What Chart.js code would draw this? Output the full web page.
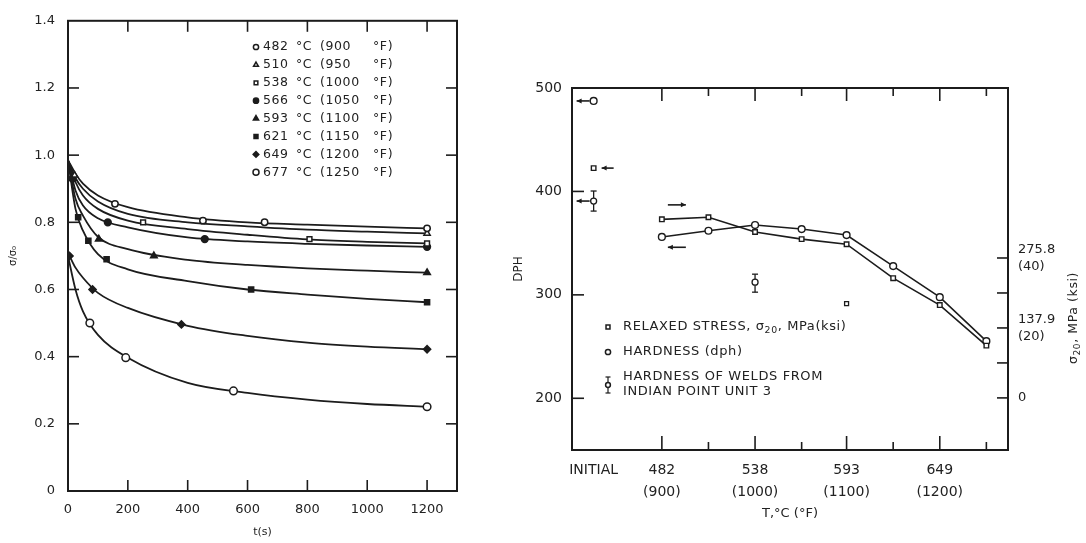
<!DOCTYPE html>
<html><head><meta charset="utf-8">
<script src="https://cdn.jsdelivr.net/npm/chart.js@4"></script>
<style>
html,body{margin:0;padding:0;background:#fff;width:1086px;height:543px;overflow:hidden}
#c1{position:absolute;left:0;top:0}
#c2{position:absolute;left:480px;top:0}
</style></head><body>
<canvas id="c1" width="470" height="543"></canvas>
<canvas id="c2" width="606" height="543"></canvas>
<script>
// ---------------- LEFT CHART DATA ----------------
const timeS = [0, 25, 50, 100, 200, 400, 600, 800, 1000, 1200];
const tempC = ['482', '510', '538', '566', '593', '621', '649', '677'];
const tempF = ['900', '950', '1000', '1050', '1100', '1150', '1200', '1250'];
const curve482 = [0.985, 0.945, 0.915, 0.88, 0.845, 0.815, 0.80, 0.793, 0.787, 0.782];
const curve510 = [0.985, 0.932, 0.90, 0.862, 0.825, 0.80, 0.788, 0.778, 0.772, 0.767];
const curve538 = [0.985, 0.92, 0.88, 0.84, 0.805, 0.78, 0.763, 0.749, 0.742, 0.737];
const curve566 = [0.985, 0.895, 0.85, 0.812, 0.785, 0.755, 0.743, 0.736, 0.731, 0.727];
const curve593 = [0.985, 0.87, 0.82, 0.757, 0.72, 0.688, 0.673, 0.663, 0.656, 0.65];
const curve621 = [0.985, 0.84, 0.775, 0.705, 0.66, 0.625, 0.60, 0.585, 0.572, 0.562];
const curve649 = [0.71, 0.665, 0.635, 0.59, 0.545, 0.492, 0.462, 0.442, 0.43, 0.422];
const curve677 = [0.70, 0.60, 0.535, 0.465, 0.397, 0.322, 0.292, 0.272, 0.259, 0.251];
const markT482 = [157, 451, 657, 1200], markV482 = [0.855, 0.805, 0.80, 0.782];
const markT510 = [22, 1200], markV510 = [0.94, 0.767];
const markT538 = [251, 807, 1200], markV538 = [0.80, 0.75, 0.737];
const markT566 = [15, 133, 457, 1200], markV566 = [0.93, 0.80, 0.75, 0.727];
const markT593 = [103, 287, 1200], markV593 = [0.75, 0.70, 0.65];
const markT621 = [34, 68, 129, 612, 1200], markV621 = [0.815, 0.745, 0.69, 0.60, 0.562];
const markT649 = [5, 82, 379, 1200], markV649 = [0.70, 0.60, 0.496, 0.422];
const markT677 = [73, 193, 553, 1200], markV677 = [0.50, 0.397, 0.298, 0.251];
const xTicksLeft = [0, 200, 400, 600, 800, 1000, 1200];
const yTicksLeft = [0, 0.2, 0.4, 0.6, 0.8, 1.0, 1.2, 1.4];

// ---------------- RIGHT CHART DATA ----------------
const tempAxis = [482, 510, 538, 566, 593, 621, 649, 677];
const stressMPa = [352, 356, 327, 313, 303, 236, 183, 103];
const hardnessDPH = [356, 362, 367.5, 363.6, 357.8, 327.8, 297.8, 255.2];
const initialX = 441;
const initialHardness = [487.5];
const initialStress = [453];
const extraStressT = [593], extraStressV = [186];
const weldT = [441, 538], weldDPH = [390.7, 312.3], weldLo = [381, 302.6], weldHi = [400.4, 320];
const xTickVals = [441, 482, 538, 593, 649];
const xTickLabels = ['INITIAL', ['482', '(900)'], ['538', '(1000)'], ['593', '(1100)'], ['649', '(1200)']];
const xMinorTicks = [510, 566, 621, 677];
const dphTicks = [200, 300, 400, 500];
const mpaTickVals = [0, 137.9, 275.8];
const mpaTickLabels = ['0', ['137.9', '(20)'], ['275.8', '(40)']];
const mpaTickMarks = [0, 68.95, 137.9, 206.85, 275.8];

const ink = '#1c1c1c';
const txt = '#222';
const FONT = '"DejaVu Sans", "Liberation Sans", sans-serif';

function pts(xs, ys) { return xs.map((x, i) => ({x: x, y: ys[i]})); }
function curveDs(vals) {
  return {data: pts(timeS, vals), showLine: true, borderColor: ink, borderWidth: 1.8,
    pointRadius: 0, cubicInterpolationMode: 'monotone', fill: false, order: 2};
}
function markDs(ts, vs, style, filled, r, rot) {
  return {data: pts(ts, vs), showLine: false, pointStyle: style, pointRadius: r, pointRotation: rot || 0,
    backgroundColor: filled ? ink : '#fff', borderColor: ink, borderWidth: 1.5, order: 1};
}
const legendStyles = [
  ['circle', false, 3.2], ['triangle', false, 3.6], ['rect', false, 3.4], ['circle', true, 3.4],
  ['triangle', true, 3.8], ['rect', true, 3.6], ['rectRot', true, 3.6], ['circle', false, 3.8]
];
const curves = [curve482, curve510, curve538, curve566, curve593, curve621, curve649, curve677];
const marksT = [markT482, markT510, markT538, markT566, markT593, markT621, markT649, markT677];
const marksV = [markV482, markV510, markV538, markV566, markV593, markV621, markV649, markV677];

const leftDatasets = [];
curves.forEach(c => leftDatasets.push(curveDs(c)));
marksT.forEach((t, i) => { const s = legendStyles[i]; leftDatasets.push(markDs(t, marksV[i], s[0], s[1], s[2])); });

function line(ctx, x1, y1, x2, y2) { ctx.beginPath(); ctx.moveTo(x1, y1); ctx.lineTo(x2, y2); ctx.stroke(); }

function marker(ctx, style, filled, r, x, y) {
  ctx.save();
  ctx.fillStyle = filled ? ink : '#fff';
  ctx.strokeStyle = ink; ctx.lineWidth = 1.5;
  Chart.helpers.drawPoint(ctx, {pointStyle: style, radius: r, borderWidth: 1.5, rotation: 0}, x, y);
  ctx.restore();
}

const leftFrame = {
  id: 'leftFrame',
  afterDatasetsDraw(chart) {
    const {ctx, chartArea: a, scales} = chart;
    ctx.save();
    ctx.strokeStyle = ink; ctx.lineWidth = 2;
    ctx.strokeRect(a.left, a.top, a.right - a.left, a.bottom - a.top);
    ctx.lineWidth = 1.6;
    const L = 11;
    xTicksLeft.forEach(v => { if (v === 0) return; const p = scales.x.getPixelForValue(v);
      line(ctx, p, a.bottom, p, a.bottom - L); line(ctx, p, a.top, p, a.top + L); });
    yTicksLeft.forEach(v => { if (v === 0 || v === 1.4) return; const p = scales.y.getPixelForValue(v);
      line(ctx, a.left, p, a.left + L, p); line(ctx, a.right, p, a.right - L, p); });
    // legend
    ctx.fillStyle = txt;
    ctx.font = '12.5px ' + FONT;
    ctx.textBaseline = 'middle';
    try { ctx.letterSpacing = '0.6px'; } catch (e) {}
    const y0 = 47, dy = 17.9;
    tempC.forEach((c, i) => {
      const y = y0 + i * dy;
      const s = legendStyles[i];
      marker(ctx, s[0], s[1], Math.max(2.6, s[2] - 0.8), 256, y);
      ctx.fillStyle = txt;
      ctx.textAlign = 'left';
      ctx.fillText(c, 263, y);
      ctx.fillText('°C', 296, y);
      ctx.fillText('(' + tempF[i], 320, y);
      ctx.fillText('°F)', 373, y);
    });
    ctx.restore();
  }
};

new Chart(document.getElementById('c1'), {
  type: 'scatter',
  data: {datasets: leftDatasets},
  options: {
    responsive: false, animation: false, devicePixelRatio: 1,
    layout: {padding: {left: 0, right: 13, top: 15, bottom: 0}},
    plugins: {legend: {display: false}, tooltip: {enabled: false}},
    scales: {
      x: {type: 'linear', min: 0, max: 1300,
        afterBuildTicks: s => { s.ticks = xTicksLeft.map(v => ({value: v})); },
        afterFit: s => { s.height = 52; },
        grid: {display: false, drawTicks: false}, border: {display: false},
        ticks: {padding: 11, color: txt, font: {family: FONT, size: 13}, maxRotation: 0, callback: v => String(v)},
        title: {display: true, text: 't(s)', color: txt, font: {family: FONT, size: 11}, padding: {top: 0, bottom: 4}}
      },
      y: {type: 'linear', min: 0, max: 1.4,
        afterBuildTicks: s => { s.ticks = yTicksLeft.map(v => ({value: v})); },
        afterFit: s => { s.width = 68; },
        grid: {display: false, drawTicks: false}, border: {display: false},
        ticks: {padding: 13, color: txt, font: {family: FONT, size: 13}, callback: v => v === 0 ? '0' : v.toFixed(1)},
        title: {display: true, text: 'σ/σ₀', color: txt, font: {family: FONT, size: 10}, padding: {top: 7, bottom: 0}}
      }
    }
  },
  plugins: [leftFrame]
});

// ---------------- RIGHT CHART ----------------
function arrow(ctx, x1, x2, y) {
  line(ctx, x1, y, x2, y);
  const d = x2 > x1 ? -1 : 1;
  ctx.beginPath(); ctx.moveTo(x2, y); ctx.lineTo(x2 + d * 5, y - 2.5); ctx.lineTo(x2 + d * 5, y + 2.5); ctx.closePath(); ctx.fill();
}
function segText(ctx, x, y, segs, size, draw) {
  let cx = x;
  segs.forEach(s => {
    if (s.sub) {
      ctx.font = (size * 0.72) + 'px ' + FONT;
      if (draw !== false) ctx.fillText(s.t, cx, y + size * 0.3);
    } else {
      ctx.font = size + 'px ' + FONT;
      if (draw !== false) ctx.fillText(s.t, cx, y);
    }
    cx += ctx.measureText(s.t).width;
  });
  return cx - x;
}

const rightFrame = {
  id: 'rightFrame',
  afterDatasetsDraw(chart) {
    const {ctx, chartArea: a, scales} = chart;
    const sx = scales.x, sy = scales.y, s2 = scales.y2;
    ctx.save();
    ctx.strokeStyle = ink; ctx.fillStyle = ink; ctx.lineWidth = 2;
    ctx.strokeRect(a.left, a.top, a.right - a.left, a.bottom - a.top);
    ctx.lineWidth = 1.6;
    xTickVals.slice(1).forEach(v => { const p = sx.getPixelForValue(v);
      line(ctx, p, a.bottom, p, a.bottom - 14); line(ctx, p, a.top, p, a.top + 13); });
    xMinorTicks.forEach(v => { const p = sx.getPixelForValue(v);
      line(ctx, p, a.bottom, p, a.bottom - 8); line(ctx, p, a.top, p, a.top + 8); });
    dphTicks.forEach(v => { const p = sy.getPixelForValue(v); line(ctx, a.left, p, a.left + 12, p); });
    mpaTickMarks.forEach(v => { const p = s2.getPixelForValue(v); line(ctx, a.right, p, a.right - 11, p); });
    // weld error bars
    ctx.lineWidth = 1.3;
    weldT.forEach((t, i) => {
      const x = sx.getPixelForValue(t), lo = sy.getPixelForValue(weldLo[i]), hi = sy.getPixelForValue(weldHi[i]);
      const c = sy.getPixelForValue(weldDPH[i]);
      line(ctx, x, hi, x, c - 3); line(ctx, x, c + 3, x, lo);
      line(ctx, x - 3, hi, x + 3, hi); line(ctx, x - 3, lo, x + 3, lo);
    });
    // arrows (annotations next to points)
    ctx.lineWidth = 1.6;
    const x482 = sx.getPixelForValue(482);
    arrow(ctx, x482 + 6, x482 + 24, sy.getPixelForValue(387));
    arrow(ctx, x482 + 24, x482 + 6, sy.getPixelForValue(346));
    const xi = sx.getPixelForValue(initialX);
    arrow(ctx, xi - 4, xi - 17, sy.getPixelForValue(initialHardness[0]));
    arrow(ctx, xi + 20, xi + 8, s2.getPixelForValue(initialStress[0]));
    arrow(ctx, xi - 4, xi - 17, sy.getPixelForValue(weldDPH[0]));
    // legend inside plot
    ctx.fillStyle = txt; ctx.textBaseline = 'middle'; ctx.textAlign = 'left';
    try { ctx.letterSpacing = '0.6px'; } catch (e) {}
    const lx = 128, tx = 143;
    marker(ctx, 'rect', false, 2.8, lx, 327);
    ctx.fillStyle = txt;
    segText(ctx, tx, 327, [{t: 'RELAXED STRESS, σ'}, {t: '20', sub: true}, {t: ', MPa(ksi)'}], 13);
    marker(ctx, 'circle', false, 2.6, lx, 352);
    ctx.fillStyle = txt;
    segText(ctx, tx, 352, [{t: 'HARDNESS (dph)'}], 13);
    ctx.strokeStyle = ink; ctx.lineWidth = 1.2;
    line(ctx, lx, 377, lx, 393); line(ctx, lx - 2.5, 377, lx + 2.5, 377); line(ctx, lx - 2.5, 393, lx + 2.5, 393);
    marker(ctx, 'circle', false, 2.4, lx, 385);
    ctx.fillStyle = txt;
    segText(ctx, tx, 377, [{t: 'HARDNESS OF WELDS FROM'}], 13);
    segText(ctx, tx, 392, [{t: 'INDIAN POINT UNIT 3'}], 13);
    // right axis title (rotated, reads bottom to top)
    ctx.save();
    ctx.translate(594, 318);
    ctx.rotate(-Math.PI / 2);
    const segs = [{t: 'σ'}, {t: '20', sub: true}, {t: ', MPa (ksi)'}];
    const w = segText(ctx, 0, 0, segs, 12.5, false);
    segText(ctx, -w / 2, 0, segs, 12.5);
    ctx.restore();
    ctx.restore();
  }
};

new Chart(document.getElementById('c2'), {
  type: 'scatter',
  data: {datasets: [
    {data: pts(tempAxis, stressMPa), yAxisID: 'y2', showLine: true, borderColor: ink, borderWidth: 1.6,
      pointStyle: 'rect', pointRadius: 3.2, backgroundColor: '#fff', pointBorderWidth: 1.4},
    {data: pts(tempAxis, hardnessDPH), yAxisID: 'y', showLine: true, borderColor: ink, borderWidth: 1.6,
      pointStyle: 'circle', pointRadius: 3.4, backgroundColor: '#fff', pointBorderWidth: 1.4},
    {data: pts([initialX], initialHardness), yAxisID: 'y', pointStyle: 'circle', pointRadius: 3.4,
      backgroundColor: '#fff', borderColor: ink, borderWidth: 1.4},
    {data: pts([initialX], initialStress), yAxisID: 'y2', pointStyle: 'rect', pointRadius: 3.2,
      backgroundColor: '#fff', borderColor: ink, borderWidth: 1.4},
    {data: pts(extraStressT, extraStressV), yAxisID: 'y2', pointStyle: 'rect', pointRadius: 2.8,
      backgroundColor: '#fff', borderColor: ink, borderWidth: 1.3},
    {data: pts(weldT, weldDPH), yAxisID: 'y', pointStyle: 'circle', pointRadius: 3,
      backgroundColor: '#fff', borderColor: ink, borderWidth: 1.3}
  ]},
  options: {
    responsive: false, animation: false, devicePixelRatio: 1,
    layout: {padding: {left: 0, right: 0, top: 88, bottom: 0}},
    plugins: {legend: {display: false}, tooltip: {enabled: false}},
    scales: {
      x: {type: 'linear', min: 428, max: 690,
        afterBuildTicks: s => { s.ticks = xTickVals.map(v => ({value: v})); },
        afterFit: s => { s.height = 93; },
        grid: {display: false, drawTicks: false}, border: {display: false},
        ticks: {padding: 9, color: txt, font: {family: FONT, size: 14, lineHeight: 1.6}, maxRotation: 0, autoSkip: false,
          callback: v => { const i = xTickVals.indexOf(v); return i >= 0 ? xTickLabels[i] : ''; }},
        title: {display: true, text: 'T,°C (°F)', color: txt, font: {family: FONT, size: 13}, padding: {top: 0, bottom: 22}}
      },
      y: {type: 'linear', position: 'left', min: 150, max: 500,
        afterBuildTicks: s => { s.ticks = dphTicks.map(v => ({value: v})); },
        afterFit: s => { s.width = 92; },
        grid: {display: false, drawTicks: false}, border: {display: false},
        ticks: {padding: 10, color: txt, font: {family: FONT, size: 14}},
        title: {display: true, text: 'DPH', color: txt, font: {family: FONT, size: 12}, padding: {top: 32, bottom: 0}}
      },
      y2: {type: 'linear', position: 'right', min: -102.7, max: 610.9,
        afterBuildTicks: s => { s.ticks = mpaTickVals.map(v => ({value: v})); },
        afterFit: s => { s.width = 78; },
        grid: {display: false, drawTicks: false}, border: {display: false},
        ticks: {padding: 10, color: txt, font: {family: FONT, size: 13, lineHeight: 1.35},
          callback: v => { const i = mpaTickVals.indexOf(v); return i >= 0 ? mpaTickLabels[i] : ''; }}
      }
    }
  },
  plugins: [rightFrame]
});
</script>
</body></html>
